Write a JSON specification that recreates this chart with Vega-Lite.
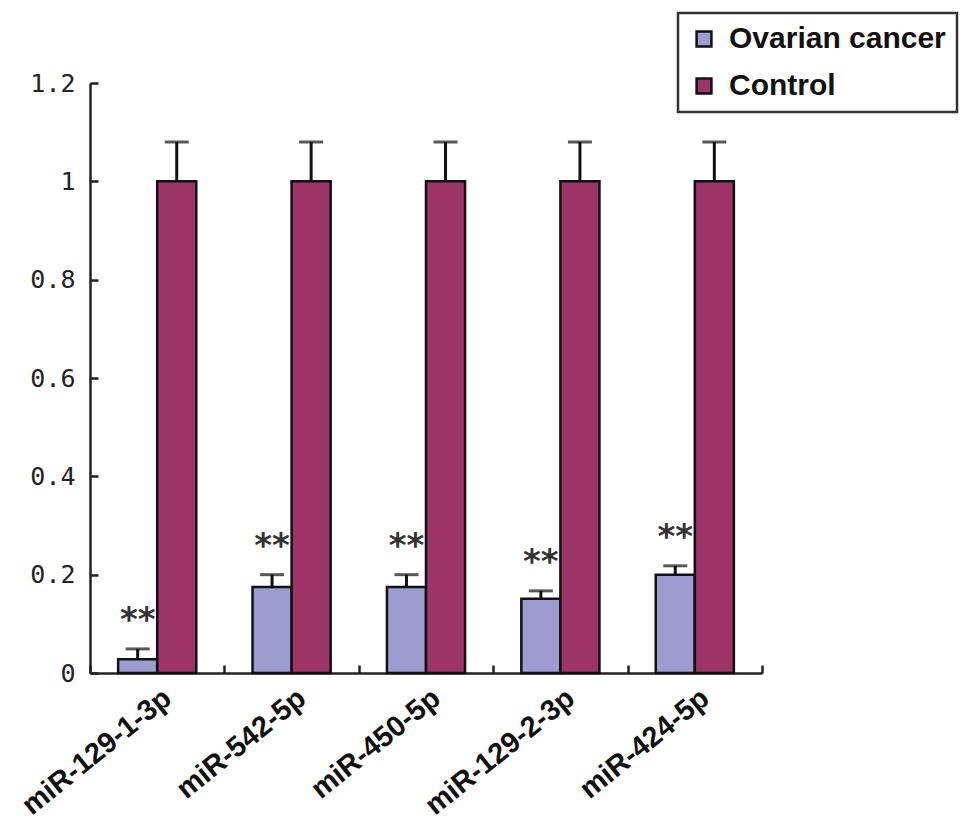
{
  "$schema": "https://vega.github.io/schema/vega-lite/v6.json",
  "autosize": "none",
  "padding": {"left": 90, "top": 83, "right": 214, "bottom": 161},
  "width": 672,
  "height": 590,
  "background": "white",
  "config": {
    "view": {"stroke": null},
    "axis": {"grid": false, "domainColor": "#222", "domainWidth": 2.5, "tickColor": "#222", "tickWidth": 2.5, "title": null}
  },
  "data": {
    "values": [
      {"mirna": "miR-129-1-3p", "group": "Ovarian cancer", "value": 0.028, "upper": 0.049, "sig": "**"},
      {"mirna": "miR-129-1-3p", "group": "Control", "value": 1.0, "upper": 1.08, "sig": ""},
      {"mirna": "miR-542-5p", "group": "Ovarian cancer", "value": 0.175, "upper": 0.2, "sig": "**"},
      {"mirna": "miR-542-5p", "group": "Control", "value": 1.0, "upper": 1.08, "sig": ""},
      {"mirna": "miR-450-5p", "group": "Ovarian cancer", "value": 0.175, "upper": 0.2, "sig": "**"},
      {"mirna": "miR-450-5p", "group": "Control", "value": 1.0, "upper": 1.08, "sig": ""},
      {"mirna": "miR-129-2-3p", "group": "Ovarian cancer", "value": 0.151, "upper": 0.167, "sig": "**"},
      {"mirna": "miR-129-2-3p", "group": "Control", "value": 1.0, "upper": 1.08, "sig": ""},
      {"mirna": "miR-424-5p", "group": "Ovarian cancer", "value": 0.2, "upper": 0.218, "sig": "**"},
      {"mirna": "miR-424-5p", "group": "Control", "value": 1.0, "upper": 1.08, "sig": ""}
    ]
  },
  "encoding": {
    "x": {
      "field": "mirna",
      "type": "nominal",
      "sort": null,
      "scale": {"paddingInner": 0, "paddingOuter": 0},
      "axis": {
        "tickBand": "extent",
        "tickSize": -8,
        "labelAngle": -39,
        "labelAlign": "right",
        "labelBaseline": "middle",
        "labelFont": "Liberation Sans",
        "labelFontWeight": "bold",
        "labelFontSize": 29,
        "labelColor": "#111",
        "labelLimit": 400,
        "labelPadding": 29,
        "labelOffset": 10
      }
    },
    "xOffset": {
      "field": "group",
      "type": "nominal",
      "sort": ["Ovarian cancer", "Control"],
      "scale": {"paddingInner": 0, "paddingOuter": 0.72}
    }
  },
  "layer": [
    {
      "mark": {"type": "rule", "color": "#111", "strokeWidth": 3},
      "encoding": {
        "y": {"field": "value", "type": "quantitative"},
        "y2": {"field": "upper"}
      }
    },
    {
      "mark": {"type": "tick", "color": "#111", "thickness": 3, "size": 24, "orient": "horizontal"},
      "encoding": {
        "y": {"field": "upper", "type": "quantitative"}
      }
    },
    {
      "mark": {"type": "bar", "stroke": "#111", "strokeWidth": 2.5},
      "encoding": {
        "y": {
          "field": "value",
          "type": "quantitative",
          "scale": {"domain": [0, 1.2], "nice": false},
          "axis": {
            "values": [0, 0.2, 0.4, 0.6, 0.8, 1, 1.2],
            "format": "~g",
            "tickSize": -8,
            "labelPadding": 23,
            "labelFont": "DejaVu Sans Mono",
            "labelFontSize": 25,
            "labelColor": "#222"
          }
        },
        "color": {
          "field": "group",
          "type": "nominal",
          "sort": ["Ovarian cancer", "Control"],
          "scale": {"domain": ["Ovarian cancer", "Control"], "range": ["#9C9CD0", "#9C3467"]},
          "legend": {
            "title": null,
            "orient": "none",
            "legendX": 588,
            "legendY": -70,
            "direction": "vertical",
            "symbolType": "square",
            "symbolSize": 220,
            "symbolStrokeColor": "#111",
            "symbolStrokeWidth": 2.5,
            "labelFont": "Liberation Sans",
            "labelFontWeight": "bold",
            "labelFontSize": 30,
            "labelColor": "#111",
            "labelLimit": 400,
            "labelOffset": 10,
            "rowPadding": 17,
            "padding": 11,
            "strokeColor": "#333",
            "offset": 0,
            "encode": {"legend": {"update": {"strokeWidth": {"value": 2.5}}}}
          }
        }
      }
    },
    {
      "mark": {"type": "text", "font": "DejaVu Sans", "fontWeight": "bold", "fontSize": 34, "color": "#333", "baseline": "middle", "dy": -28},
      "encoding": {
        "y": {"field": "upper", "type": "quantitative"},
        "text": {"field": "sig"}
      }
    }
  ]
}
